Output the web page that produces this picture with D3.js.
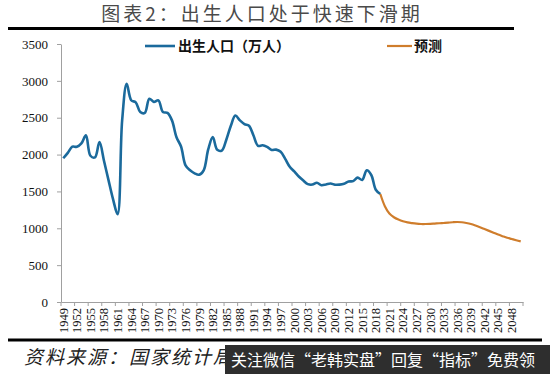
<!DOCTYPE html>
<html>
<head>
<meta charset="utf-8">
<script src="https://cdn.jsdelivr.net/npm/d3@7"></script>
<style>
  body { margin: 0; background: #fff; }
  svg { display: block; }
</style>
</head>
<body>
<div id="chart"></div>
<script>
// years on the category axis
let years = d3.range(1949, 2051);
let labelYears = d3.range(1949, 2051, 3);

// births, 10k persons (1949-2019)
let birthYears = d3.range(1949, 2020);
let births = [1950, 2023, 2107, 2105, 2151, 2260, 1984, 1961, 2169, 1913,
  1650, 1392, 1190, 2464, 2959, 2737, 2709, 2577, 2564, 2757,
  2715, 2736, 2578, 2566, 2464, 2235, 2109, 1853, 1786, 1745,
  1727, 1787, 2069, 2237, 2064, 2055, 2202, 2391, 2529, 2464,
  2414, 2391, 2258, 2119, 2126, 2104, 2063, 2067, 2038, 1942,
  1834, 1771, 1702, 1647, 1599, 1593, 1617, 1585, 1595, 1608,
  1591, 1592, 1604, 1635, 1640, 1687, 1655, 1786, 1723, 1523,
  1465];

// forecast (2019-2050)
let forecastYears = d3.range(2019, 2051);
let forecast = [1465, 1300, 1200, 1150, 1118, 1095, 1080, 1070, 1062, 1058,
  1058, 1060, 1064, 1068, 1072, 1077, 1082, 1085, 1082, 1072,
  1058, 1038, 1015, 990, 965, 940, 915, 893, 872, 855,
  838, 822];

let yTicks = d3.range(0, 3501, 500);

let svg = d3.select("#chart")
  .append("svg")
  .attr("width", 550)
  .attr("height", 374);

// title + rules
svg.append("text")
  .attr("x", 262)
  .attr("y", 21)
  .attr("text-anchor", "middle")
  .attr("font-family", "Noto Sans CJK SC")
  .attr("font-size", "19px")
  .attr("letter-spacing", "3px")
  .attr("fill", "#4a4a4a")
  .text("图表2：出生人口处于快速下滑期");
svg.append("line")
  .attr("x1", 8).attr("x2", 514)
  .attr("y1", 28.5).attr("y2", 28.5)
  .style("stroke", "#000")
  .style("stroke-width", 3);
svg.append("line")
  .attr("x1", 8).attr("x2", 542)
  .attr("y1", 340).attr("y2", 340)
  .style("stroke", "#000")
  .style("stroke-width", 3);

let x = d3.scaleBand().domain(years).range([61, 523]);
let bw = x.bandwidth();
let y = d3.scaleLinear().domain([0, 3500]).range([302, 44]);

let px = d => x(d) + bw / 2;

// y axis
let yAxis = svg.append("g")
  .attr("transform", "translate(61,0)")
  .call(d3.axisLeft(y).tickValues(yTicks).tickFormat(d3.format("d"))
    .tickSize(4).tickSizeOuter(0).tickPadding(9));
yAxis.select(".domain").style("stroke", "#a0a0a0");
yAxis.selectAll(".tick line").style("stroke", "#a0a0a0");
yAxis.selectAll("text")
  .attr("font-family", "Liberation Serif")
  .attr("font-size", "13px")
  .attr("fill", "#111");

// x axis
let xAxis = svg.append("g")
  .attr("transform", "translate(0,302)")
  .call(d3.axisBottom(x).tickValues(labelYears).tickSize(4).tickSizeOuter(0));
xAxis.select(".domain").style("stroke", "#a0a0a0");
xAxis.selectAll(".tick line")
  .attr("x1", -bw / 2).attr("x2", -bw / 2)
  .style("stroke", "#a0a0a0");
xAxis.append("line")
  .attr("x1", 523).attr("x2", 523)
  .attr("y1", 0).attr("y2", 4)
  .style("stroke", "#a0a0a0");
xAxis.selectAll(".tick text")
  .attr("font-family", "Liberation Serif")
  .attr("font-size", "12.5px")
  .attr("fill", "#111")
  .attr("text-anchor", "end")
  .attr("transform", "rotate(-90)")
  .attr("x", -6)
  .attr("y", 0)
  .attr("dy", "0.35em");

// lines
let line = d3.line().curve(d3.curveCatmullRom.alpha(0.5));
svg.append("path")
  .attr("d", line(birthYears.map((d, i) => [px(d), y(births[i])])))
  .attr("fill", "none")
  .style("stroke", "#1b6a9c")
  .style("stroke-width", 2.6);
svg.append("path")
  .attr("d", line(forecastYears.map((d, i) => [px(d), y(forecast[i])])))
  .attr("fill", "none")
  .style("stroke", "#cf7d2c")
  .style("stroke-width", 2.2);

// legend
svg.append("line")
  .attr("x1", 145).attr("x2", 175)
  .attr("y1", 46).attr("y2", 46)
  .style("stroke", "#1b6a9c")
  .style("stroke-width", 2.6);
svg.append("text")
  .attr("x", 178).attr("y", 51)
  .attr("font-family", "Noto Sans CJK SC")
  .attr("font-weight", "bold")
  .attr("font-size", "14px")
  .attr("fill", "#111")
  .text("出生人口（万人）");
svg.append("line")
  .attr("x1", 387).attr("x2", 412)
  .attr("y1", 46).attr("y2", 46)
  .style("stroke", "#cf7d2c")
  .style("stroke-width", 2.2);
svg.append("text")
  .attr("x", 414).attr("y", 51)
  .attr("font-family", "Noto Sans CJK SC")
  .attr("font-weight", "bold")
  .attr("font-size", "14px")
  .attr("fill", "#111")
  .text("预测");

// source
svg.append("text")
  .attr("x", 24).attr("y", 364)
  .attr("font-family", "Noto Sans CJK SC")
  .attr("font-style", "italic")
  .attr("font-size", "19px")
  .attr("letter-spacing", "2px")
  .attr("fill", "#222")
  .text("资料来源：国家统计局");

// watermark banner
svg.append("rect")
  .attr("x", 225).attr("y", 345)
  .attr("width", 325).attr("height", 29)
  .attr("fill", "#2e2e2e");
svg.append("text")
  .attr("x", 231).attr("y", 366)
  .attr("font-family", "Noto Sans CJK SC")
  .attr("font-size", "16px")
  .attr("fill", "#fff")
  .text("关注微信“老韩实盘”回复“指标”免费领");
</script>
</body>
</html>
